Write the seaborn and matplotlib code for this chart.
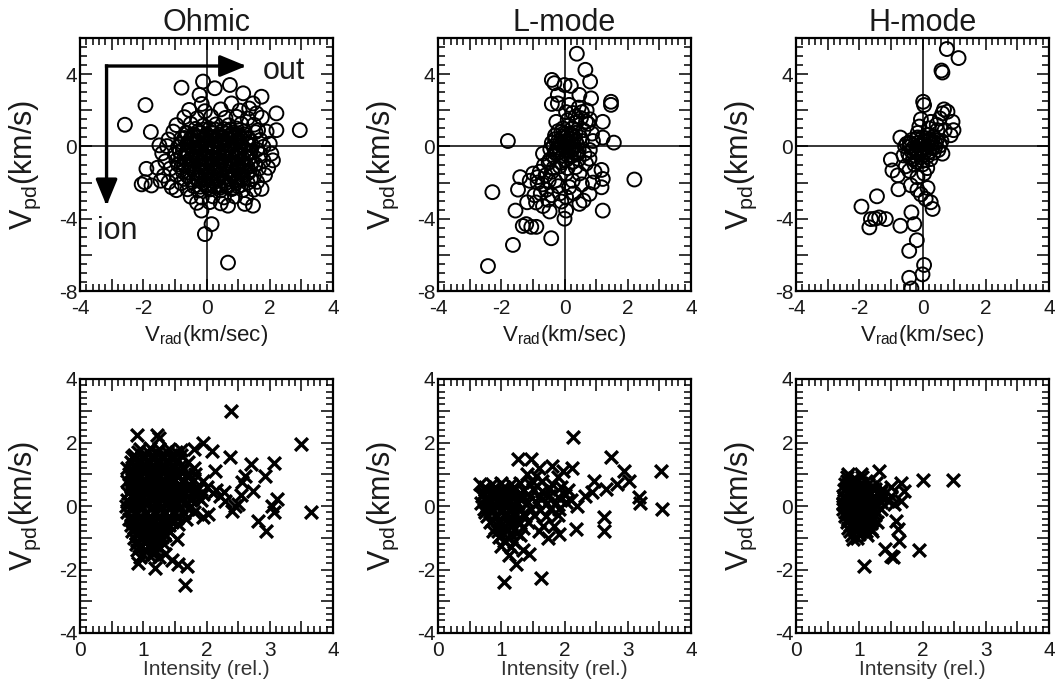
import matplotlib
matplotlib.use("Agg")
import matplotlib.pyplot as plt
import seaborn as sns
import pandas as pd
from matplotlib.ticker import MultipleLocator, FuncFormatter

sns.set_theme(style="white")
plt.rcParams['font.family'] = ['Liberation Sans', 'DejaVu Sans']
plt.rcParams['mathtext.fontset'] = 'custom'
plt.rcParams['mathtext.rm'] = 'Liberation Sans'
plt.rcParams['mathtext.it'] = 'Liberation Sans:italic'
plt.rcParams['axes.unicode_minus'] = False

# ---------------- data ----------------
modes = ["Ohmic", "L-mode", "H-mode"]

# Top row: (V_rad [km/s], V_pd [km/s]), open circles
ohmic_vrad_vpd = [
    (-2.58, 1.2), (-1.93, 2.29), (-0.79, 3.25), (-1.76, 0.8), (-1.49, 0.06), (2.95, 0.9), (2.21, 1.83),
    (2.21, 0.9), (0.68, -6.43), (-0.05, -4.85), (0.16, -4.3), (-0.16, -3.55), (-1.95, -1.98), (-2.05, -2.1),
    (-1.74, -2.16), (-1.9, -1.24), (-1.1, -2.26), (-1.45, -1.9), (1.47, -3.28), (1.21, -3.18), (0.68, -3.28),
    (1.74, -2.35), (2.1, -0.77), (2.0, 0.15), (1.74, 2.75), (1.16, 2.94), (0.74, 3.4), (0.26, 3.22),
    (-0.11, 3.59), (-0.22, 2.85), (-0.15, 2.35), (0.79, 2.38), (1.47, 2.38), (1.58, 1.83), (1.63, 0.9),
    (-0.55, 2.02), (-0.05, 1.95), (0.45, 2.05), (1.05, 1.98), (1.35, 2.1),
    (-0.7, 1.62), (-0.3, 1.55), (0.15, 1.66), (0.6, 1.58), (0.95, 1.64), (1.3, 1.55), (1.75, 1.6),
    (-0.95, 1.18), (-0.5, 1.25), (-0.1, 1.15), (0.3, 1.22), (0.7, 1.17), (1.1, 1.25), (1.5, 1.2),
    (-1.05, 0.82), (-0.65, 0.76), (-0.25, 0.85), (0.15, 0.78), (0.5, 0.83), (0.85, 0.77), (1.2, 0.84), (1.55, 0.79), (1.9, 0.82),
    (-1.2, 0.38), (-0.8, 0.43), (-0.45, 0.36), (-0.05, 0.42), (0.3, 0.37), (0.65, 0.44), (1.0, 0.39), (1.35, 0.41), (1.7, 0.36),
    (-1.25, 0.02), (-0.9, -0.03), (-0.55, 0.04), (-0.2, -0.02), (0.15, 0.03), (0.45, -0.04), (0.8, 0.02), (1.15, -0.03), (1.45, 0.04), (1.8, -0.02),
    (-1.4, -0.38), (-1.0, -0.43), (-0.65, -0.36), (-0.3, -0.42), (0.05, -0.37), (0.35, -0.44), (0.7, -0.39), (1.05, -0.41), (1.35, -0.36), (1.7, -0.43), (2.05, -0.4),
    (-1.3, -0.82), (-0.95, -0.77), (-0.6, -0.84), (-0.25, -0.78), (0.1, -0.83), (0.4, -0.76), (0.75, -0.81), (1.1, -0.79), (1.45, -0.84), (1.8, -0.78),
    (-1.55, -1.18), (-1.15, -1.23), (-0.8, -1.16), (-0.45, -1.22), (-0.1, -1.17), (0.25, -1.24), (0.6, -1.19), (0.95, -1.21), (1.3, -1.16), (1.65, -1.23), (1.95, -1.18),
    (-1.35, -1.62), (-0.95, -1.57), (-0.6, -1.64), (-0.25, -1.58), (0.1, -1.63), (0.45, -1.56), (0.8, -1.61), (1.15, -1.59), (1.5, -1.64), (1.85, -1.58),
    (-1.2, -1.98), (-0.8, -2.03), (-0.45, -1.96), (-0.1, -2.02), (0.25, -1.97), (0.6, -2.04), (0.95, -1.99), (1.3, -2.01), (1.6, -1.96),
    (-0.95, -2.42), (-0.6, -2.37), (-0.25, -2.44), (0.1, -2.38), (0.45, -2.43), (0.8, -2.36), (1.15, -2.41), (1.5, -2.39),
    (-0.5, -2.78), (-0.15, -2.83), (0.2, -2.76), (0.55, -2.82), (0.9, -2.77), (1.25, -2.84),
    (-0.3, -3.12), (0.1, -3.08), (0.45, -3.15),
    (-0.4, 0.6), (0.0, 0.62), (0.35, 0.57), (0.75, 0.63), (1.05, 0.58),
    (-0.6, 0.2), (-0.3, 0.22), (0.05, 0.17), (0.4, 0.23), (0.7, 0.18), (1.05, 0.21), (1.3, 0.19),
    (-0.75, -0.2), (-0.4, -0.18), (-0.05, -0.23), (0.25, -0.17), (0.6, -0.22), (0.9, -0.19), (1.25, -0.21), (1.6, -0.18),
    (-0.8, -0.6), (-0.45, -0.62), (-0.1, -0.57), (0.2, -0.63), (0.55, -0.58), (0.9, -0.61), (1.25, -0.59),
    (-0.9, -1.0), (-0.55, -0.98), (-0.2, -1.03), (0.15, -0.97), (0.45, -1.02), (0.8, -0.99), (1.15, -1.01), (1.55, -0.98),
    (-0.75, -1.4), (-0.4, -1.38), (-0.05, -1.43), (0.3, -1.37), (0.65, -1.42), (1.0, -1.39), (1.35, -1.41),
    (-0.7, -1.8), (-0.3, -1.78), (0.05, -1.83), (0.4, -1.77), (0.75, -1.82), (1.1, -1.79), (1.4, -1.81),
    (-0.4, -2.2), (0.0, -2.18), (0.35, -2.23), (0.7, -2.17), (1.0, -2.21),
]
ohmic_core_vrad_vpd = [
    (-0.35, 0.97), (-0.1, 0.93), (0.1, 0.98), (0.3, 0.92), (0.55, 0.96), (0.75, 0.94), (0.95, 0.99),
    (-0.6, 0.72), (-0.4, 0.67), (-0.2, 0.73), (0.0, 0.68), (0.2, 0.72), (0.4, 0.66), (0.6, 0.71), (0.8, 0.69), (1.0, 0.73), (1.2, 0.67),
    (-0.7, 0.47), (-0.5, 0.43), (-0.3, 0.48), (-0.1, 0.44), (0.1, 0.47), (0.3, 0.42), (0.5, 0.46), (0.7, 0.43), (0.9, 0.48), (1.1, 0.44), (1.3, 0.47),
    (-0.8, 0.12), (-0.6, 0.07), (-0.4, 0.13), (-0.15, 0.08), (0.05, 0.12), (0.25, 0.06), (0.5, 0.11), (0.7, 0.08), (0.9, 0.13), (1.1, 0.07), (1.3, 0.11),
    (-0.85, -0.28), (-0.6, -0.33), (-0.4, -0.27), (-0.2, -0.32), (0.0, -0.28), (0.2, -0.34), (0.4, -0.29), (0.6, -0.32), (0.8, -0.27), (1.0, -0.33), (1.2, -0.28), (1.4, -0.31),
    (-0.7, -0.63), (-0.5, -0.68), (-0.3, -0.62), (-0.05, -0.67), (0.15, -0.64), (0.35, -0.69), (0.55, -0.63), (0.75, -0.68), (0.95, -0.62), (1.15, -0.67), (1.35, -0.64),
    (-0.7, -1.03), (-0.45, -1.08), (-0.25, -1.02), (-0.05, -1.07), (0.15, -1.04), (0.35, -1.09), (0.6, -1.03), (0.8, -1.07), (1.0, -1.02), (1.2, -1.08), (1.4, -1.05),
    (-0.6, -1.43), (-0.35, -1.48), (-0.15, -1.42), (0.05, -1.47), (0.25, -1.44), (0.45, -1.49), (0.7, -1.43), (0.9, -1.47), (1.1, -1.42), (1.3, -1.48),
    (-0.5, -1.83), (-0.25, -1.88), (-0.05, -1.82), (0.15, -1.87), (0.35, -1.84), (0.55, -1.89), (0.75, -1.83), (0.95, -1.87), (1.15, -1.84),
    (-0.2, -2.23), (0.05, -2.28), (0.25, -2.22), (0.45, -2.27), (0.65, -2.24), (0.85, -2.28),
]

lmode_vrad_vpd = [
    (0.39, 5.13), (0.66, 4.24), (0.81, 3.59), (-0.4, 3.68), (-0.32, 3.5), (0.0, 3.4), (0.2, 3.35), (-0.21, 2.85),
    (0.47, 2.85), (0.84, 2.66), (1.47, 2.47), (1.47, 2.3), (-0.4, 2.35), (-0.21, 2.38), (-0.26, 1.36), (0.15, 2.3),
    (0.26, 1.85), (0.52, 1.57), (0.68, 1.38), (0.37, 1.3), (1.21, 1.36), (1.21, 0.49), (1.56, 0.21), (-1.79, 0.3),
    (0.87, 0.71), (2.21, -1.83), (1.17, -1.3), (1.21, -1.8), (1.17, -2.26), (1.21, -3.55), (0.79, -2.63),
    (0.47, -3.18), (0.05, -3.55), (0.0, -4.0), (-0.42, -5.08), (-1.63, -5.45), (-2.42, -6.62), (-2.28, -2.53),
    (-1.21, -4.3), (-1.05, -4.45), (-0.89, -4.45), (-1.32, -4.4), (-1.55, -3.55), (-1.18, -3.09), (-1.47, -2.39),
    (-1.4, -1.7),
    (-0.99, -1.5), (-0.78, -1.4), (-1.1, -1.9), (-0.58, -2.4), (-0.52, -2.95), (-0.68, -3.3), (-0.47, -3.6),
    (-0.15, -2.6), (-0.1, -3.05), (0.26, -1.9), (0.47, -1.5), (0.68, -0.95), (0.79, -0.68), (0.63, -0.4),
    (-0.68, -0.4), (-0.47, -0.75), (-0.15, -1.1), (0.05, -1.5), (0.26, -0.85), (-0.85, -2.0), (-0.3, -1.9),
    (0.55, -2.1), (0.9, -2.0), (0.3, -2.6), (-0.95, -2.7), (-0.25, -0.4), (0.4, -0.3), (0.95, -1.4), (0.6, -3.0),
    (-0.65, -1.05), (0.15, -2.25), (-0.4, -1.4),
    (-0.3, 0.6), (-0.1, 0.8), (0.1, 0.6), (0.3, 0.5), (-0.2, 0.3), (0.0, 0.2), (0.2, 0.2), (0.4, 0.1),
    (-0.35, 0.0), (-0.15, -0.1), (0.05, -0.2), (0.25, -0.15), (0.45, -0.2), (-0.3, -0.35), (-0.05, -0.5),
    (0.2, -0.55), (0.1, 0.35), (-0.1, 0.1), (0.15, -0.05), (0.0, 0.45), (-0.25, -0.2), (0.3, -0.35), (0.35, 0.75),
    (-0.05, 1.0), (0.55, 0.3), (0.6, 0.9), (0.25, 1.0), (0.75, 1.25), (0.55, 1.9), (0.35, 1.65), (0.1, 1.45),
    (0.8, 1.5), (0.45, 2.15), (0.7, 2.0), (0.05, 1.9), (0.9, 0.3), (0.8, -0.2),
]
lmode_core_vrad_vpd = [
    (-0.2, 0.85), (0.05, 0.7), (0.25, 0.65), (-0.3, 0.4), (-0.05, 0.55), (0.2, 0.4), (0.35, 0.3), (-0.4, 0.2),
    (-0.15, 0.2), (0.1, 0.15), (0.3, 0.05), (-0.45, -0.15), (-0.2, -0.05), (0.0, 0.0), (0.2, -0.25), (0.4, -0.45),
    (-0.35, -0.55), (-0.15, -0.3), (0.05, -0.75), (0.25, -0.85), (-0.1, -0.9), (0.5, 0.5), (0.45, -0.7),
    (-0.5, -0.9), (0.1, -1.2), (0.35, -1.15), (-0.35, -1.2), (-0.6, -1.6), (-0.85, -1.7), (-0.7, -2.1),
    (-0.5, -1.9), (-0.2, -2.2), (-0.4, -2.7), (-0.75, -2.6), (-0.9, -3.1), (0.05, -2.8),
]

hmode_vrad_vpd = [
    (0.77, 5.39), (1.14, 4.89), (0.63, 4.09), (0.6, 4.2), (0.02, 2.47), (0.05, 2.29), (0.68, 2.05), (0.79, 1.92),
    (0.63, 1.83), (0.95, 1.36), (0.98, 0.9), (0.89, 0.62), (-0.05, 1.5), (-0.1, 1.1), (0.26, 1.36), (0.47, 0.9),
    (-0.7, 0.49), (0.63, -0.4), (-1.0, -0.73), (-0.95, -1.33), (-0.78, -1.6), (-0.76, -2.37), (-0.37, -2.15),
    (-0.16, -1.7), (0.05, -1.5), (0.16, -2.3), (-0.05, -2.65), (-0.16, -2.4), (-0.42, -1.35), (-0.53, -1.1),
    (-1.44, -2.76), (-1.93, -3.33), (-1.63, -4.02), (-1.37, -3.93), (-1.16, -4.02), (-1.68, -4.48), (-1.5, -4.0),
    (-0.7, -4.39), (-0.35, -3.65), (-0.26, -4.3), (-0.18, -5.19), (-0.42, -5.78), (0.05, -6.56), (0.0, -7.08),
    (-0.42, -7.27), (-0.35, -7.86), (0.26, -3.09), (0.32, -3.46), (0.1, -2.9),
    (-0.4, 0.2), (-0.2, 0.4), (0.0, 0.5), (0.2, 0.3), (0.4, 0.2), (-0.3, -0.1), (-0.1, 0.05), (0.1, -0.05),
    (0.3, -0.1), (-0.45, -0.4), (-0.2, -0.3), (0.05, -0.35), (0.25, 0.1), (-0.05, -0.6), (-0.3, -0.7),
    (0.15, 0.65), (0.35, 0.55), (-0.15, 0.75), (0.5, -0.2), (0.6, 0.3), (0.7, 0.9), (0.45, 1.2), (0.2, 1.0),
    (0.55, 1.55), (-0.55, 0.0), (-0.6, -0.5), (0.0, -1.0), (-0.25, -1.0), (0.15, -1.2),
]
hmode_core_vrad_vpd = [
    (-0.35, 0.35), (-0.15, 0.2), (0.05, 0.25), (0.25, 0.4), (0.4, -0.05), (-0.4, 0.0), (-0.2, -0.15), (0.0, -0.2),
    (0.2, -0.3), (-0.35, -0.25), (-0.1, -0.45), (0.15, -0.55), (0.35, -0.35), (-0.25, -0.5), (0.05, 0.1),
    (0.3, 0.15), (-0.5, 0.15), (0.45, 0.35), (-0.15, 0.5), (0.1, 0.45), (-0.4, -0.6), (0.0, -0.8), (0.25, -0.7),
    (0.55, 0.05), (-0.2, -0.85),
]

# Bottom row: (Intensity [rel.], V_pd [km/s]), crosses
ohmic_int_vpd = [
    (2.39, 2.98), (0.9, 2.25), (1.21, 2.25), (1.25, 2.15), (1.95, 1.98), (2.08, 1.72), (2.37, 1.53), (3.49, 1.95),
    (2.71, 1.32), (3.06, 1.34), (2.92, 0.96), (2.61, 0.96), (2.13, 1.11), (3.66, -0.2), (3.03, 0.01), (3.11, 0.22),
    (3.06, -0.2), (2.82, -0.46), (2.94, -0.8), (2.74, 0.48), (2.56, 0.75), (2.5, 0.06), (2.4, -0.15), (2.45, 0.0),
    (2.28, 0.45), (2.22, 0.3), (2.03, -0.25), (1.66, -2.5), (1.69, -1.88), (1.55, -1.83), (1.19, -1.95),
    (0.92, -1.78), (1.53, -1.04), (1.35, -1.5), (1.45, -1.7), (1.8, 1.8), (1.6, 1.75), (2.3, 0.15), (2.55, 0.35),
    (2.15, 0.5), (1.95, -0.35),
    (0.95, 1.8), (1.1, 1.82), (1.25, 1.78), (1.4, 1.81),
    (0.85, 1.6), (1.0, 1.62), (1.15, 1.58), (1.3, 1.61), (1.45, 1.59), (1.6, 1.62),
    (0.8, 1.4), (0.95, 1.42), (1.1, 1.38), (1.25, 1.41), (1.4, 1.39), (1.55, 1.42), (1.7, 1.38),
    (0.75, 1.2), (0.9, 1.22), (1.05, 1.18), (1.2, 1.21), (1.35, 1.19), (1.5, 1.22), (1.65, 1.18), (1.8, 1.21),
    (0.78, 1.0), (0.92, 1.02), (1.07, 0.98), (1.22, 1.01), (1.37, 0.99), (1.52, 1.02), (1.67, 0.98), (1.82, 1.01),
    (0.75, 0.8), (0.9, 0.82), (1.05, 0.78), (1.2, 0.81), (1.35, 0.79), (1.5, 0.82), (1.65, 0.78), (1.8, 0.81), (1.95, 0.79),
    (0.8, 0.6), (0.95, 0.62), (1.1, 0.58), (1.25, 0.61), (1.4, 0.59), (1.55, 0.62), (1.7, 0.58), (1.85, 0.61), (2.0, 0.59),
    (0.76, 0.4), (0.9, 0.42), (1.05, 0.38), (1.2, 0.41), (1.35, 0.39), (1.5, 0.42), (1.65, 0.38), (1.8, 0.41), (1.95, 0.39), (2.1, 0.42),
    (0.74, 0.2), (0.88, 0.22), (1.02, 0.18), (1.17, 0.21), (1.32, 0.19), (1.47, 0.22), (1.62, 0.18), (1.77, 0.21), (1.92, 0.19),
    (0.72, 0.0), (0.86, 0.02), (1.0, -0.02), (1.15, 0.01), (1.3, -0.01), (1.45, 0.02), (1.6, -0.02), (1.75, 0.01),
    (0.75, -0.2), (0.9, -0.18), (1.05, -0.22), (1.2, -0.19), (1.35, -0.21), (1.5, -0.18), (1.65, -0.22), (1.8, -0.19),
    (0.78, -0.4), (0.93, -0.38), (1.08, -0.42), (1.23, -0.39), (1.38, -0.41), (1.53, -0.38), (1.68, -0.42),
    (0.8, -0.6), (0.95, -0.58), (1.1, -0.62), (1.25, -0.59), (1.4, -0.61), (1.55, -0.58),
    (0.82, -0.8), (0.97, -0.78), (1.12, -0.82), (1.27, -0.79), (1.42, -0.81),
    (0.85, -1.0), (1.0, -0.98), (1.15, -1.02), (1.3, -0.99),
    (0.88, -1.2), (1.03, -1.18), (1.18, -1.22), (1.33, -1.19),
    (0.9, -1.4), (1.05, -1.38), (1.2, -1.42),
    (0.95, -1.6), (1.1, -1.58), (1.25, -1.62),
    (0.88, 1.5), (1.03, 1.5), (1.18, 1.5), (1.33, 1.5), (1.48, 1.5),
    (0.83, 1.1), (0.98, 1.1), (1.13, 1.1), (1.28, 1.1), (1.43, 1.1), (1.58, 1.1),
    (0.82, 0.7), (0.97, 0.7), (1.12, 0.7), (1.27, 0.7), (1.42, 0.7), (1.57, 0.7), (1.72, 0.7),
    (0.8, 0.3), (0.95, 0.3), (1.1, 0.3), (1.25, 0.3), (1.4, 0.3), (1.55, 0.3), (1.7, 0.3), (1.85, 0.3),
    (0.8, -0.1), (0.95, -0.1), (1.1, -0.1), (1.25, -0.1), (1.4, -0.1), (1.55, -0.1), (1.7, -0.1),
    (0.85, -0.5), (1.0, -0.5), (1.15, -0.5), (1.3, -0.5), (1.45, -0.5),
    (0.9, -0.9), (1.05, -0.9), (1.2, -0.9), (1.35, -0.9),
    (0.95, -1.3), (1.1, -1.3), (1.25, -1.3),
]
ohmic_core_int_vpd = [
    (0.92, 1.7), (1.07, 1.7), (1.22, 1.7), (1.37, 1.7), (1.52, 1.7),
    (0.85, 1.3), (1.0, 1.3), (1.15, 1.3), (1.3, 1.3), (1.45, 1.3), (1.6, 1.3),
    (0.8, 0.9), (0.95, 0.9), (1.1, 0.9), (1.25, 0.9), (1.4, 0.9), (1.55, 0.9), (1.7, 0.9),
    (0.8, 0.5), (0.95, 0.5), (1.1, 0.5), (1.25, 0.5), (1.4, 0.5), (1.55, 0.5), (1.7, 0.5), (1.85, 0.5),
    (0.78, 0.1), (0.93, 0.1), (1.08, 0.1), (1.23, 0.1), (1.38, 0.1), (1.53, 0.1), (1.68, 0.1),
    (0.8, -0.3), (0.95, -0.3), (1.1, -0.3), (1.25, -0.3), (1.4, -0.3), (1.55, -0.3),
    (0.85, -0.7), (1.0, -0.7), (1.15, -0.7), (1.3, -0.7),
    (0.9, -1.1), (1.05, -1.1), (1.2, -1.1),
    (1.0, -1.5), (1.15, -1.5),
    (0.83, 1.55), (0.98, 1.55), (1.13, 1.55), (1.28, 1.55), (1.43, 1.55),
    (0.83, 1.15), (0.98, 1.15), (1.13, 1.15), (1.28, 1.15), (1.43, 1.15),
    (0.83, 0.75), (0.98, 0.75), (1.13, 0.75), (1.28, 0.75), (1.43, 0.75),
    (0.83, 0.35), (0.98, 0.35), (1.13, 0.35), (1.28, 0.35), (1.43, 0.35),
    (0.83, -0.05), (0.98, -0.05), (1.13, -0.05), (1.28, -0.05), (1.43, -0.05),
    (0.83, -0.45), (0.98, -0.45), (1.13, -0.45), (1.28, -0.45), (1.43, -0.45),
    (0.88, -0.85), (1.03, -0.85), (1.18, -0.85), (1.33, -0.85),
    (0.93, -1.25), (1.08, -1.25), (1.23, -1.25),
]

lmode_int_vpd = [
    (2.13, 2.18), (1.26, 1.48), (1.47, 1.48), (2.73, 1.53), (2.94, 1.11), (3.53, 1.11), (3.54, -0.1), (3.17, 0.27),
    (3.2, 0.11), (3.02, 0.8), (2.83, 0.69), (2.65, 0.54), (2.47, 0.8), (2.44, 0.43), (2.62, -0.36), (2.62, -0.78),
    (2.18, -0.72), (2.2, 0.0), (2.1, 0.2), (2.12, 1.2), (1.98, 1.1), (1.9, 0.9), (1.63, -2.27), (1.05, -2.4),
    (1.23, -1.82), (1.44, -1.51), (1.34, -1.4), (1.13, -1.55), (0.97, -0.99), (0.87, -0.78), (1.6, -0.78),
    (1.74, -1.0), (1.92, -0.88), (1.66, -0.62), (1.84, -0.62), (0.66, 0.69), (0.71, 0.38), (2.33, 0.3),
    (2.0, 0.35), (1.8, 1.25), (1.6, 1.2), (1.55, 0.95), (1.75, 0.55),
    (0.85, 0.7), (1.0, 0.72), (1.15, 0.68), (1.3, 0.71), (1.45, 0.69),
    (0.75, 0.5), (0.9, 0.52), (1.05, 0.48), (1.2, 0.51), (1.35, 0.49), (1.5, 0.52), (1.65, 0.48),
    (0.7, 0.3), (0.85, 0.32), (1.0, 0.28), (1.15, 0.31), (1.3, 0.29), (1.45, 0.32), (1.6, 0.28), (1.75, 0.31), (1.9, 0.29),
    (0.68, 0.1), (0.82, 0.12), (0.97, 0.08), (1.12, 0.11), (1.27, 0.09), (1.42, 0.12), (1.57, 0.08), (1.72, 0.11), (1.87, 0.09), (2.02, 0.12),
    (0.72, -0.1), (0.87, -0.08), (1.02, -0.12), (1.17, -0.09), (1.32, -0.11), (1.47, -0.08), (1.62, -0.12), (1.77, -0.09), (1.92, -0.11),
    (0.78, -0.3), (0.92, -0.28), (1.07, -0.32), (1.22, -0.29), (1.37, -0.31), (1.52, -0.28), (1.7, -0.32), (1.9, -0.29),
    (0.82, -0.5), (0.97, -0.48), (1.12, -0.52), (1.27, -0.49), (1.42, -0.51),
    (0.9, -0.7), (1.05, -0.68), (1.2, -0.72), (1.35, -0.69),
    (1.0, -0.9), (1.15, -0.88), (1.3, -0.92),
    (1.05, -1.1), (1.2, -1.12),
    (0.8, 0.2), (0.95, 0.2), (1.1, 0.2), (0.78, 0.0), (0.93, 0.0), (1.08, 0.0), (0.85, -0.2), (1.0, -0.2),
    (1.15, -0.4), (0.9, 0.4), (1.05, 0.4),
    (1.5, 0.75), (1.65, 0.8), (1.8, 0.7), (1.95, 0.6), (1.4, 1.0), (1.7, 0.35), (2.05, 0.5),
]
lmode_core_int_vpd = [
    (0.75, 0.6), (0.9, 0.6), (1.05, 0.6), (1.2, 0.6), (0.72, 0.4), (0.85, 0.45), (1.0, 0.35), (1.15, 0.45),
    (1.3, 0.4), (0.75, 0.2), (0.88, 0.05), (1.02, 0.22), (1.18, 0.05), (1.32, 0.2), (0.75, -0.2), (0.9, -0.3),
    (1.05, -0.25), (1.2, -0.2), (1.35, -0.25), (0.85, -0.45), (1.0, -0.6), (1.15, -0.6), (1.3, -0.55),
    (0.95, -0.8), (1.1, -0.75), (1.25, -0.85), (1.1, -1.0), (1.15, -1.3), (1.0, -1.25),
]

hmode_int_vpd = [
    (2.49, 0.82), (2.0, 0.82), (1.32, 1.11), (1.66, 0.74), (1.71, 0.48), (1.66, 0.17), (1.55, 0.05), (1.5, 0.3),
    (1.58, -0.46), (1.61, -0.72), (1.63, -1.09), (1.95, -1.39), (1.53, -1.62), (1.5, -1.58), (1.4, -1.35),
    (1.08, -1.88), (0.9, -1.04), (0.97, -1.0), (1.2, -0.8), (0.82, 1.0), (1.03, 1.0), (1.5, 0.6), (1.45, 0.15),
    (1.35, 0.45),
    (0.8, 0.9), (0.92, 0.88), (1.05, 0.91),
    (0.78, 0.7), (0.9, 0.68), (1.02, 0.71), (1.14, 0.69), (1.26, 0.72),
    (0.76, 0.5), (0.88, 0.52), (1.0, 0.48), (1.12, 0.51), (1.24, 0.49), (1.36, 0.52),
    (0.75, 0.3), (0.87, 0.28), (0.99, 0.31), (1.11, 0.29), (1.23, 0.32), (1.35, 0.28),
    (0.74, 0.1), (0.86, 0.12), (0.98, 0.08), (1.1, 0.11), (1.22, 0.09), (1.34, 0.12),
    (0.75, -0.1), (0.87, -0.08), (0.99, -0.12), (1.11, -0.09), (1.23, -0.11), (1.35, -0.08),
    (0.77, -0.3), (0.89, -0.32), (1.01, -0.28), (1.13, -0.31), (1.25, -0.29),
    (0.8, -0.5), (0.92, -0.48), (1.04, -0.52), (1.16, -0.49), (1.28, -0.51),
    (0.83, -0.7), (0.95, -0.72), (1.07, -0.68), (1.19, -0.71),
    (0.88, -0.9), (1.0, -0.88), (1.12, -0.92),
    (0.82, 0.6), (0.94, 0.6), (1.06, 0.6), (1.18, 0.6),
    (0.82, 0.4), (0.94, 0.4), (1.06, 0.4), (1.18, 0.4),
    (0.82, 0.2), (0.94, 0.2), (1.06, 0.2), (1.18, 0.2),
    (0.82, 0.0), (0.94, 0.0), (1.06, 0.0), (1.18, 0.0),
    (0.82, -0.2), (0.94, -0.2), (1.06, -0.2), (1.18, -0.2),
    (0.82, -0.4), (0.94, -0.4), (1.06, -0.4), (1.18, -0.4),
    (0.86, -0.6), (0.98, -0.6), (1.1, -0.6),
]
hmode_core_int_vpd = [
    (0.8, 0.8), (0.95, 0.8), (1.1, 0.8), (0.77, 0.55), (0.89, 0.45), (1.01, 0.55), (1.13, 0.45), (1.25, 0.55),
    (0.76, 0.25), (0.88, 0.35), (1.0, 0.25), (1.12, 0.35), (1.24, 0.25), (0.75, 0.05), (0.87, -0.05), (0.99, 0.05),
    (1.11, -0.05), (1.23, 0.05), (0.78, -0.2), (0.9, -0.25), (1.02, -0.2), (1.14, -0.25), (1.26, -0.2),
    (0.82, -0.45), (0.94, -0.55), (1.06, -0.45), (1.18, -0.55), (0.86, -0.8), (0.98, -0.75), (1.1, -0.8),
]

top_data = [ohmic_vrad_vpd + ohmic_core_vrad_vpd,
            lmode_vrad_vpd + lmode_core_vrad_vpd,
            hmode_vrad_vpd + hmode_core_vrad_vpd]
bot_data = [ohmic_int_vpd + ohmic_core_int_vpd,
            lmode_int_vpd + lmode_core_int_vpd,
            hmode_int_vpd + hmode_core_int_vpd]

TXT = '#1a1a1a'

# ---------------- figure ----------------
fig = plt.figure(figsize=(10.61, 6.98), dpi=100)
lefts = [80 / 1061, 438 / 1061, 796 / 1061]
W = 253 / 1061
top_b, top_h = (698 - 291) / 698, 253 / 698
bot_b, bot_h = (698 - 633) / 698, 254 / 698


def label_every(step):
    def f(v, pos):
        r = v / step
        if abs(r - round(r)) < 1e-6:
            return "%d" % int(round(v))
        return ""
    return FuncFormatter(f)


def style_axes(ax, xmaj, xmin, xlab, ymaj, ymin, ylab):
    ax.xaxis.set_major_locator(MultipleLocator(xmaj))
    ax.xaxis.set_minor_locator(MultipleLocator(xmin))
    ax.yaxis.set_major_locator(MultipleLocator(ymaj))
    ax.yaxis.set_minor_locator(MultipleLocator(ymin))
    ax.xaxis.set_major_formatter(label_every(xlab))
    ax.yaxis.set_major_formatter(label_every(ylab))
    ax.tick_params(which='both', direction='in', top=True, right=True, bottom=True, left=True,
                   colors='black', labelcolor=TXT, labelsize=15, width=1.1)
    ax.tick_params(which='major', length=8.5)
    ax.tick_params(which='minor', length=5)
    ax.tick_params(axis='x', which='major', pad=6)
    ax.tick_params(axis='y', which='major', pad=2)
    for s in ax.spines.values():
        s.set_linewidth(1.6)
        s.set_color('black')
    ax.grid(False)
    ax.set_facecolor('white')


for i in range(3):
    # ---- top panel ----
    ax = fig.add_axes([lefts[i], top_b, W, top_h])
    df = pd.DataFrame(top_data[i], columns=["vrad", "vpd"])
    ax.axhline(0, color='black', lw=1.1, zorder=1)
    ax.axvline(0, color='black', lw=1.1, zorder=1)
    sns.scatterplot(data=df, x="vrad", y="vpd", ax=ax, marker='o', s=100,
                    facecolor='none', edgecolor='black', linewidth=1.4, zorder=3, legend=False)
    ax.set_xlim(-4, 4)
    ax.set_ylim(-8, 6)
    style_axes(ax, 1, 0.2, 2, 2, 0.5, 4)
    ax.set_title(modes[i], fontsize=22, pad=4, color=TXT)
    ax.set_xlabel(r'V$_{\mathrm{rad}}$(km/sec)', fontsize=16, color=TXT)
    ax.set_ylabel(r'V$_{\mathrm{pd}}$(km/s)', fontsize=22, color=TXT)
    ax.xaxis.set_label_coords(0.5, -0.125)
    ax.yaxis.set_label_coords(-0.215, 0.5)
    ax.yaxis.label.set_va('center')

    if i == 0:
        ap = dict(arrowstyle='-|>,head_length=0.8,head_width=0.33', lw=2.4, color='black',
                  mutation_scale=20, shrinkA=0, shrinkB=0, capstyle='projecting')
        ax.annotate('', xy=(1.26, 4.45), xytext=(-3.16, 4.45), arrowprops=ap, zorder=4)
        ax.annotate('', xy=(-3.16, -3.28), xytext=(-3.16, 4.45), arrowprops=ap, zorder=4)
        ax.text(2.44, 4.2, 'out', fontsize=22, ha='center', va='center', color=TXT)
        ax.text(-2.83, -4.7, 'ion', fontsize=22, ha='center', va='center', color=TXT)

    # ---- bottom panel ----
    bx = fig.add_axes([lefts[i], bot_b, W, bot_h])
    db = pd.DataFrame(bot_data[i], columns=["intensity", "vpd"])
    sns.scatterplot(data=db, x="intensity", y="vpd", ax=bx, marker='x', s=85,
                    color='black', linewidth=2.4, zorder=3, legend=False)
    bx.set_xlim(0, 4)
    bx.set_ylim(-4, 4)
    style_axes(bx, 0.5, 0.1, 1, 1, 0.2, 2)
    bx.set_xlabel('Intensity (rel.)', fontsize=15, color='#333333')
    bx.set_ylabel(r'V$_{\mathrm{pd}}$(km/s)', fontsize=22, color=TXT)
    bx.xaxis.set_label_coords(0.5, -0.105)
    bx.yaxis.set_label_coords(-0.215, 0.5)
    bx.yaxis.label.set_va('center')

fig.savefig('out.png', dpi=100, facecolor='white')
